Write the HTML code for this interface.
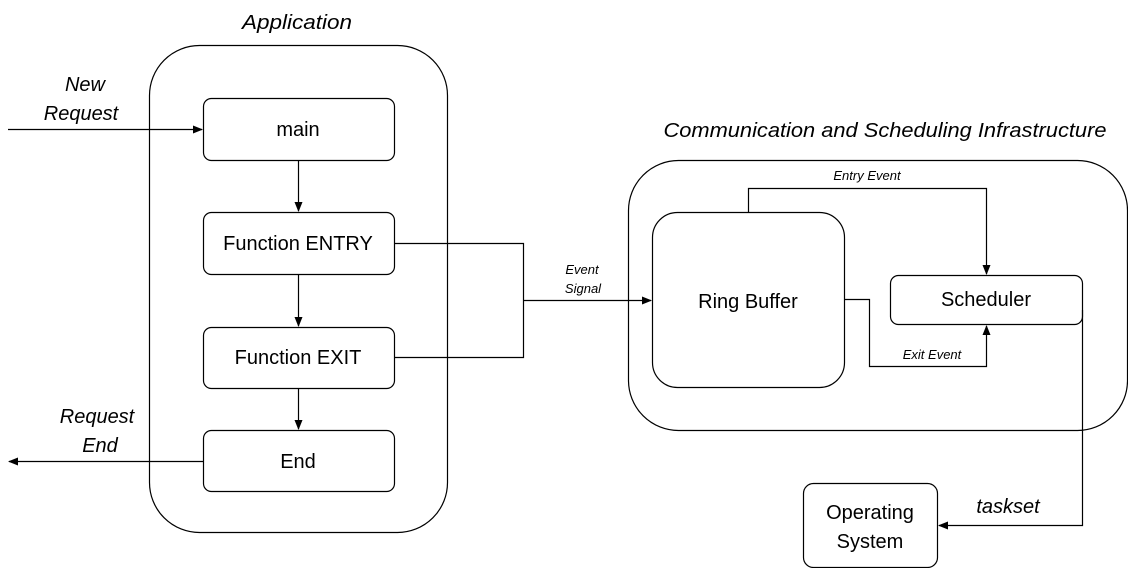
<!DOCTYPE html>
<html><head><meta charset="utf-8"><style>
html,body{margin:0;padding:0;background:#fff;}
svg{display:block;}
text{font-family:"Liberation Sans",sans-serif;fill:#000;}
</style></head><body>
<svg width="1128" height="568" viewBox="0 0 1128 568" xmlns="http://www.w3.org/2000/svg">
<defs>
<marker id="a" markerWidth="10" markerHeight="8" refX="9" refY="4" orient="auto" markerUnits="userSpaceOnUse">
<path d="M0,0 L10,4 L0,8 Z" fill="#000"/></marker>
</defs>
<g fill="none" stroke="#000" stroke-width="1.2">
<rect x="149.5" y="45.5" width="298" height="487" rx="50"/>
<rect x="203.5" y="98.5" width="191" height="62" rx="8"/>
<rect x="203.5" y="212.5" width="191" height="62" rx="8"/>
<rect x="203.5" y="327.5" width="191" height="61" rx="8"/>
<rect x="203.5" y="430.5" width="191" height="61" rx="8"/>
<rect x="628.5" y="160.5" width="499" height="270" rx="50"/>
<rect x="652.5" y="212.5" width="192" height="175" rx="25"/>
<rect x="890.5" y="275.5" width="192" height="49" rx="8"/>
<rect x="803.5" y="483.5" width="134" height="84" rx="10"/>
<line x1="298.5" y1="160" x2="298.5" y2="211" marker-end="url(#a)"/>
<line x1="298.5" y1="274" x2="298.5" y2="326" marker-end="url(#a)"/>
<line x1="298.5" y1="388" x2="298.5" y2="429" marker-end="url(#a)"/>
<line x1="8" y1="129.5" x2="202" y2="129.5" marker-end="url(#a)"/>
<line x1="203" y1="461.5" x2="9" y2="461.5" marker-end="url(#a)"/>
<polyline points="394,243.5 523.5,243.5 523.5,357.5 394,357.5"/>
<line x1="523" y1="300.5" x2="651" y2="300.5" marker-end="url(#a)"/>
<polyline points="748.5,212 748.5,188.5 986.5,188.5 986.5,274" marker-end="url(#a)"/>
<polyline points="844,299.5 869.5,299.5 869.5,366.5 986.5,366.5 986.5,326" marker-end="url(#a)"/>
<polyline points="1082.5,310 1082.5,525.5 939,525.5" marker-end="url(#a)"/>
</g>
<g font-style="italic" font-size="20" text-anchor="middle">
<text x="297" y="29" textLength="110" lengthAdjust="spacingAndGlyphs">Application</text>
<text x="85" y="91">New</text>
<text x="81" y="120">Request</text>
<text x="97" y="423">Request</text>
<text x="100" y="452">End</text>
<text x="885" y="137" textLength="443" lengthAdjust="spacingAndGlyphs">Communication and Scheduling Infrastructure</text>
<text x="1008" y="513">taskset</text>
</g>
<g font-style="italic" font-size="13" text-anchor="middle">
<text x="582" y="274">Event</text>
<text x="583" y="293">Signal</text>
<text x="867" y="180">Entry Event</text>
<text x="932" y="359">Exit Event</text>
</g>
<g font-size="20" text-anchor="middle">
<text x="298" y="136">main</text>
<text x="298" y="250">Function ENTRY</text>
<text x="298" y="364">Function EXIT</text>
<text x="298" y="468">End</text>
<text x="748" y="308">Ring Buffer</text>
<text x="986" y="306">Scheduler</text>
<text x="870" y="519">Operating</text>
<text x="870" y="548">System</text>
</g>
</svg>
</body></html>
